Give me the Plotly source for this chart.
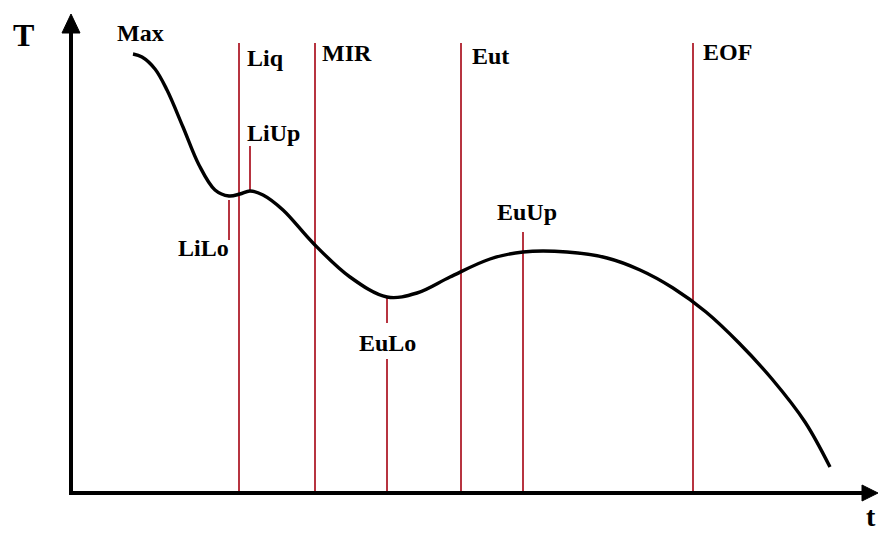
import plotly.graph_objects as go

# Cooling curve samples: time and temperature (arbitrary units)
time = [62, 71, 84, 96, 112, 128, 144, 158, 169, 179, 192, 212, 242, 279, 316,
        346, 379, 419, 452, 496, 536, 569, 602, 635, 668, 701, 734, 759]
temp = [439, 436, 424, 403, 366, 328, 303, 297, 299, 302, 298, 283, 250, 216, 196,
        200, 216, 234, 241, 241, 235, 223, 205, 181, 150, 114, 71, 26]

# Full-height phase boundaries
phase_names = ["Liq", "MIR", "Eut", "EOF"]
phase_times = [168, 244, 390, 622]
phase_top = 450

# Characteristic points: name, time, line segments (temperature from/to)
point_names = ["LiLo", "LiUp", "EuLo", "EuUp"]
point_times = [158, 179, 316, 452]
point_segments = [
    [(253, 293)],
    [(301, 347)],
    [(170, 195), (0, 134)],
    [(0, 261)],
]

RED = "#b73440"
FONT = "Liberation Serif"

fig = go.Figure()

for t in phase_times:
    fig.add_trace(go.Scatter(x=[t, t], y=[0, phase_top], mode="lines",
                             line=dict(color=RED, width=2), hoverinfo="skip"))

for t, segs in zip(point_times, point_segments):
    for lo, hi in segs:
        fig.add_trace(go.Scatter(x=[t, t], y=[lo, hi], mode="lines",
                                 line=dict(color=RED, width=2), hoverinfo="skip"))

fig.add_trace(go.Scatter(x=time, y=temp, mode="lines",
                         line=dict(color="black", width=3.4, shape="spline", smoothing=1.0),
                         hoverinfo="skip"))

# Axes with arrow heads
shapes = [
    dict(type="line", x0=0, y0=-2, x1=0, y1=462, line=dict(color="black", width=4)),
    dict(type="line", x0=-2, y0=0, x1=793, y1=0, line=dict(color="black", width=4)),
    dict(type="path", path="M -9,460 L 0,479 L 9,460 Z",
         fillcolor="black", line=dict(color="black", width=1)),
    dict(type="path", path="M 791,8 L 807,0 L 791,-8 Z",
         fillcolor="black", line=dict(color="black", width=1)),
]
for s in shapes:
    s.update(xref="x", yref="y", layer="above")

labels = [
    ("T", -60, 458, 32, "left", "middle"),
    ("t", 807, -41, 28, "right", "bottom"),
    ("Max", 44, 460, 24, "left", "middle"),
    ("Liq", 174, 435, 24, "left", "middle"),
    ("MIR", 249, 440, 24, "left", "middle"),
    ("Eut", 399, 437, 24, "left", "middle"),
    ("EOF", 630, 441, 24, "left", "middle"),
    ("LiUp", 174, 360, 24, "left", "middle"),
    ("LiLo", 105, 245, 24, "left", "middle"),
    ("EuLo", 286, 150, 24, "left", "middle"),
    ("EuUp", 424, 281, 24, "left", "middle"),
]
annotations = [
    dict(text="<b>%s</b>" % txt, x=x, y=y, xref="x", yref="y",
         xanchor=xa, yanchor=ya, showarrow=False,
         font=dict(family=FONT, size=size, color="black"))
    for txt, x, y, size, xa, ya in labels
]

fig.update_layout(
    width=878, height=534,
    margin=dict(l=0, r=0, t=0, b=0),
    paper_bgcolor="white", plot_bgcolor="white",
    showlegend=False,
    xaxis=dict(range=[-71, 807], visible=False, fixedrange=True),
    yaxis=dict(range=[-41, 493], visible=False, fixedrange=True),
    shapes=shapes,
    annotations=annotations,
)

fig.write_html("out.html")
